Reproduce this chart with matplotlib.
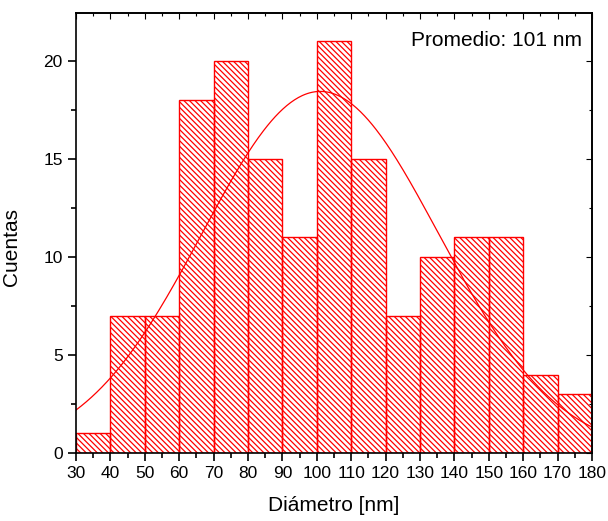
import numpy as np
import matplotlib
matplotlib.use("Agg")
import matplotlib.pyplot as plt
from matplotlib.ticker import MultipleLocator

plt.rcParams['font.family'] = ['Liberation Sans', 'DejaVu Sans']
plt.rcParams['hatch.linewidth'] = 0.9

# Histogram of particle diameters (bin edges in nm, counts per bin)
bin_edges = [30, 40, 50, 60, 70, 80, 90, 100, 110, 120, 130, 140, 150, 160, 170, 180]
counts = [1, 7, 7, 18, 20, 15, 11, 21, 15, 7, 10, 11, 11, 4, 3]

# Gaussian fit parameters
fit_center = 101.0
fit_sigma = 34.4
fit_amplitude = 18.45

fig = plt.figure(figsize=(6.08, 5.21), dpi=100)
ax = fig.add_axes([0.125, 0.1305, 0.8487, 0.8445])

left = bin_edges[:-1]
widths = np.diff(bin_edges)
ax.bar(left, counts, width=widths, align='edge', facecolor='none',
       edgecolor='#ff0000', linewidth=1.0, hatch='\\' * 6)

xs = np.linspace(bin_edges[0], bin_edges[-1], 400)
ys = fit_amplitude * np.exp(-(xs - fit_center) ** 2 / (2 * fit_sigma ** 2))
ax.plot(xs, ys, color='#ff0000', linewidth=0.9)

ax.set_xlim(30, 180)
ax.set_ylim(0, 22.45)
ax.xaxis.set_major_locator(MultipleLocator(10))
ax.xaxis.set_minor_locator(MultipleLocator(5))
ax.yaxis.set_major_locator(MultipleLocator(5))
ax.yaxis.set_minor_locator(MultipleLocator(2.5))

ax.tick_params(which='both', direction='out', top=False, right=False, width=1.2,
               labelsize=12.5, colors='black')
ax.tick_params(which='major', length=6)
ax.tick_params(which='minor', length=3.5)

# Mirror ticks pointing inward on top and right
sec_x = ax.secondary_xaxis('top')
sec_x.xaxis.set_major_locator(MultipleLocator(10))
sec_x.xaxis.set_minor_locator(MultipleLocator(5))
sec_x.tick_params(which='both', direction='in', labeltop=False, width=0.8)
sec_x.tick_params(which='major', length=4)
sec_x.tick_params(which='minor', length=2)
sec_y = ax.secondary_yaxis('right')
sec_y.yaxis.set_major_locator(MultipleLocator(5))
sec_y.yaxis.set_minor_locator(MultipleLocator(2.5))
sec_y.tick_params(which='both', direction='in', labelright=False, width=0.8)
sec_y.tick_params(which='major', length=4)
sec_y.tick_params(which='minor', length=2)

for side in ['left', 'bottom', 'top', 'right']:
    ax.spines[side].set_linewidth(1.2)
sec_x.spines['top'].set_linewidth(1.2)
sec_y.spines['right'].set_linewidth(1.2)

ax.set_xlabel('Diámetro [nm]', fontsize=15)
ax.set_ylabel('Cuentas', fontsize=15)
ax.xaxis.set_label_coords(0.5, -0.098)
ax.yaxis.set_label_coords(-0.106, 0.468)

ax.text(0.98, 0.96, 'Promedio: 101 nm', transform=ax.transAxes,
        ha='right', va='top', fontsize=15)

fig.savefig('out.png', dpi=100)
